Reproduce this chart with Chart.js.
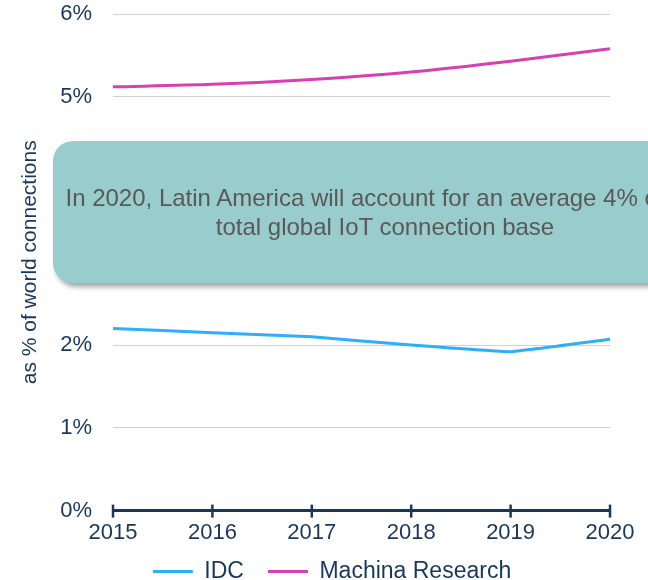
<!DOCTYPE html>
<html>
<head>
<meta charset="utf-8">
<script src="https://cdn.jsdelivr.net/npm/chart.js@4/dist/chart.umd.min.js"></script>
<style>
  html, body { margin:0; padding:0; background:#fff; overflow:hidden; }
  #wrap { position:relative; width:648px; height:580px; overflow:hidden; }
  #c { position:absolute; left:0; top:0; }
  #note {
    position:absolute; left:53px; top:141px; width:664px; height:142px;
    background:#99cccc; border-radius:20px;
    box-shadow: 3px 4px 5px rgba(0,0,0,0.35);
    display:flex; align-items:center; justify-content:center; text-align:center;
    font-family:"Liberation Sans", Arial, sans-serif; font-size:24px; line-height:29px;
    color:#595959;
  }
</style>
</head>
<body>
<div id="wrap">
  <canvas id="c" width="648" height="580"></canvas>
  <div id="note">In 2020, Latin America will account for an average 4% of the<br>total global IoT connection base</div>
</div>
<script>
const years = ['2015','2016','2017','2018','2019','2020'];
const idc = [2.20, 2.15, 2.10, 2.00, 1.92, 2.07];
const machina = [5.12, 5.15, 5.21, 5.30, 5.43, 5.58];
const seriesNames = ['IDC', 'Machina Research'];
const yAxisTitle = 'as % of world connections';

const navy = '#17375e';
const FONT = '"Liberation Sans", Arial, sans-serif';

const crossTicks = {
  id: 'crossTicks',
  afterDraw(chart) {
    const x = chart.scales.x, y = chart.scales.y;
    const ctx = chart.ctx;
    const yb = y.getPixelForValue(0);
    ctx.save();
    ctx.strokeStyle = navy;
    ctx.lineWidth = 2.5;
    for (let i = 0; i < years.length; i++) {
      const px = x.getPixelForValue(i);
      ctx.beginPath();
      ctx.moveTo(px, yb - 6);
      ctx.lineTo(px, yb + 7);
      ctx.stroke();
    }
    ctx.restore();
  }
};

const legendShift = {
  id: 'legendShift',
  afterLayout(chart) {
    const lg = chart.legend;
    if (lg) { lg.top -= 19; lg.bottom -= 19; lg.left += 8; lg.right += 8; }
  }
};

new Chart(document.getElementById('c'), {
  type: 'line',
  data: {
    labels: years,
    datasets: [
      { label: seriesNames[0], data: idc, borderColor: '#2eaefc', backgroundColor: '#2eaefc',
        borderWidth: 3, pointRadius: 0, tension: 0.05 },
      { label: seriesNames[1], data: machina, borderColor: '#d83fb2', backgroundColor: '#d83fb2',
        borderWidth: 3, pointRadius: 0, tension: 0.3 }
    ]
  },
  options: {
    responsive: false,
    animation: false,
    layout: { padding: { top: 14, right: 0, left: 0, bottom: -32 } },
    plugins: {
      tooltip: { enabled: false },
      legend: {
        position: 'bottom',
        labels: {
          color: navy,
          font: { family: FONT, size: 23 },
          boxWidth: 40, boxHeight: 3, padding: 24,
          generateLabels(chart) {
            return chart.data.datasets.map((ds, i) => ({
              text: ds.label, fillStyle: ds.borderColor, strokeStyle: ds.borderColor,
              lineWidth: 0, hidden: false, datasetIndex: i, fontColor: navy
            }));
          }
        }
      }
    },
    scales: {
      x: {
        offset: false,
        afterFit(scale) { scale.paddingRight = 38; scale.paddingLeft = 0; },
        grid: { display: true, drawOnChartArea: false, drawTicks: false },
        border: { display: true, color: navy, width: 3 },
        ticks: { color: navy, padding: 9, maxRotation: 0, font: { family: FONT, size: 22 } }
      },
      y: {
        min: 0, max: 6,
        afterFit(scale) { scale.width = 113; scale.paddingTop = 0; scale.paddingBottom = 0; },
        grid: { color: '#d0d0d0', lineWidth: 1, drawTicks: false },
        border: { display: false },
        ticks: { stepSize: 1, color: navy, padding: 21,
          font: { family: FONT, size: 22 },
          callback: v => v + '%' },
        title: { display: true, text: yAxisTitle, color: navy, padding: { top: 17.5, bottom: 0 },
          font: { family: FONT, size: 21 } }
      }
    }
  },
  plugins: [crossTicks, legendShift]
});
</script>
</body>
</html>
